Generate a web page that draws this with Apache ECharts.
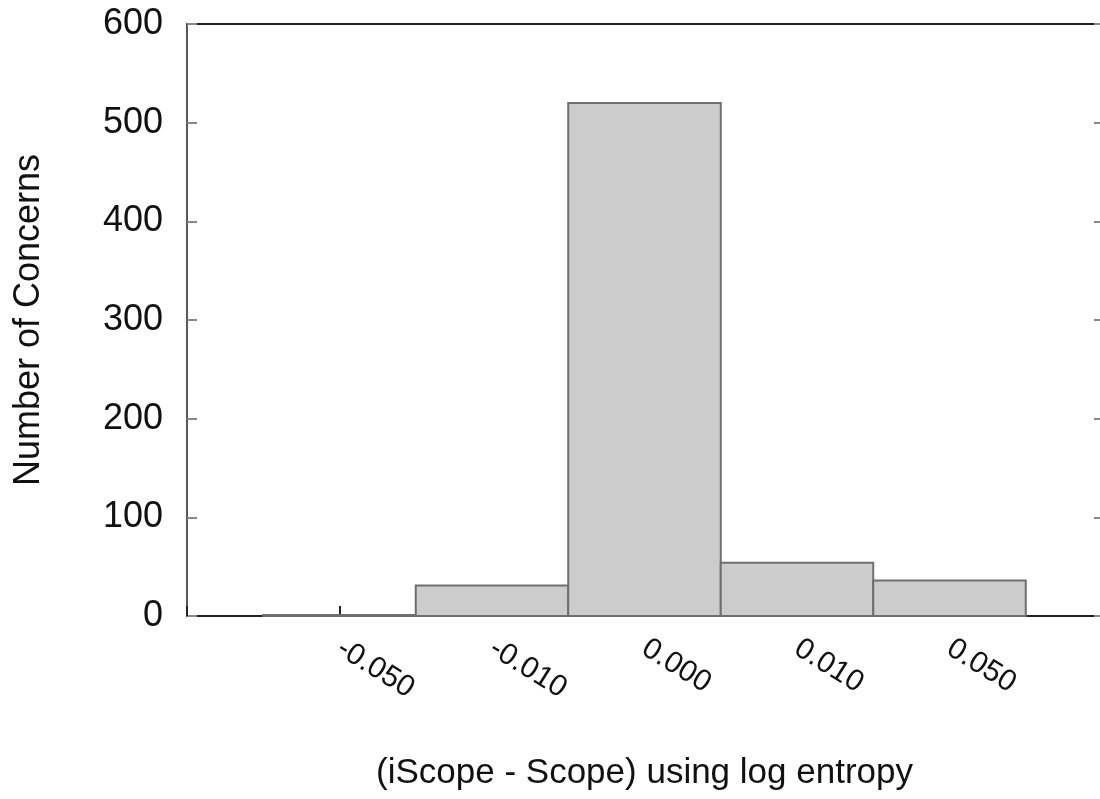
<!DOCTYPE html>
<html>
<head>
<meta charset="utf-8">
<script src="https://cdn.jsdelivr.net/npm/echarts@6/dist/echarts.min.js"></script>
<style>
  html, body { margin: 0; padding: 0; background: #fff; }
  #chart { width: 1100px; height: 799px; }
</style>
</head>
<body>
<div id="chart"></div>
<script>
// bins of the histogram
const binLabels = ['-0.050', '-0.010', '0.000', '0.010', '0.050']
const binPos = [1, 2, 3, 4, 5]
const counts = [1, 31, 520, 54, 36]
const yTicks = [0, 100, 200, 300, 400, 500, 600]

const chart = echarts.init(document.getElementById('chart'))

const barData = binPos.map((p, i) => [p, counts[i]])

const option = {
  animation: false,
  grid: {left: 187, right: -2, top: 24, bottom: 183, outerBoundsMode: 'none', containLabel: false},
  xAxis: [
    {
      type: 'value',
      min: 0,
      max: 6,
      interval: 1,
      name: '(iScope - Scope) using log entropy',
      nameLocation: 'middle',
      nameGap: 140,
      nameTextStyle: {fontFamily: 'Liberation Sans', fontSize: 35, color: '#111'},
      axisLine: {show: true, onZero: false, lineStyle: {color: '#222', width: 2}},
      axisTick: {show: true, inside: true, length: 10, lineStyle: {color: '#222', width: 2}},
      splitLine: {show: false},
      axisLabel: {
        rotate: -32,
        margin: 30,
        fontFamily: 'Liberation Sans',
        fontSize: 30,
        color: '#111',
        formatter: function (v) {
          const i = binPos.indexOf(v)
          return i >= 0 ? binLabels[i] : ''
        }
      }
    },
    {
      type: 'value',
      position: 'top',
      min: 0,
      max: 6,
      axisLine: {show: true, onZero: false, lineStyle: {color: '#222', width: 2}},
      axisTick: {show: false},
      axisLabel: {show: false},
      splitLine: {show: false}
    }
  ],
  yAxis: [
    {
      type: 'value',
      min: yTicks[0],
      max: yTicks[yTicks.length - 1],
      interval: 100,
      name: 'Number of Concerns',
      nameLocation: 'middle',
      nameGap: 140,
      nameTextStyle: {fontFamily: 'Liberation Sans', fontSize: 36, color: '#111'},
      axisLine: {show: true, onZero: false, lineStyle: {color: '#222', width: 1.5}},
      axisTick: {show: true, inside: true, length: 10, lineStyle: {color: '#888', width: 2}},
      splitLine: {show: false},
      axisLabel: {fontFamily: 'Liberation Sans', fontSize: 36, color: '#111', margin: 24}
    },
    {
      type: 'value',
      position: 'right',
      min: 0,
      max: 600,
      interval: 100,
      axisLine: {show: false, onZero: false},
      axisTick: {show: true, inside: true, length: 8, lineStyle: {color: '#888', width: 2}},
      axisLabel: {show: false},
      splitLine: {show: false}
    }
  ],
  series: [
    {
      type: 'custom',
      xAxisIndex: 0,
      yAxisIndex: 0,
      data: barData,
      renderItem: function (params, api) {
        const x = api.value(0)
        const y = api.value(1)
        const p1 = api.coord([x - 0.5, y])
        const p2 = api.coord([x + 0.5, 0])
        return {
          type: 'rect',
          shape: {x: p1[0], y: p1[1], width: p2[0] - p1[0], height: p2[1] - p1[1]},
          style: {fill: '#cccccc', stroke: '#6f6f6f', lineWidth: 2}
        }
      }
    }
  ]
}

chart.setOption(option)
</script>
</body>
</html>
